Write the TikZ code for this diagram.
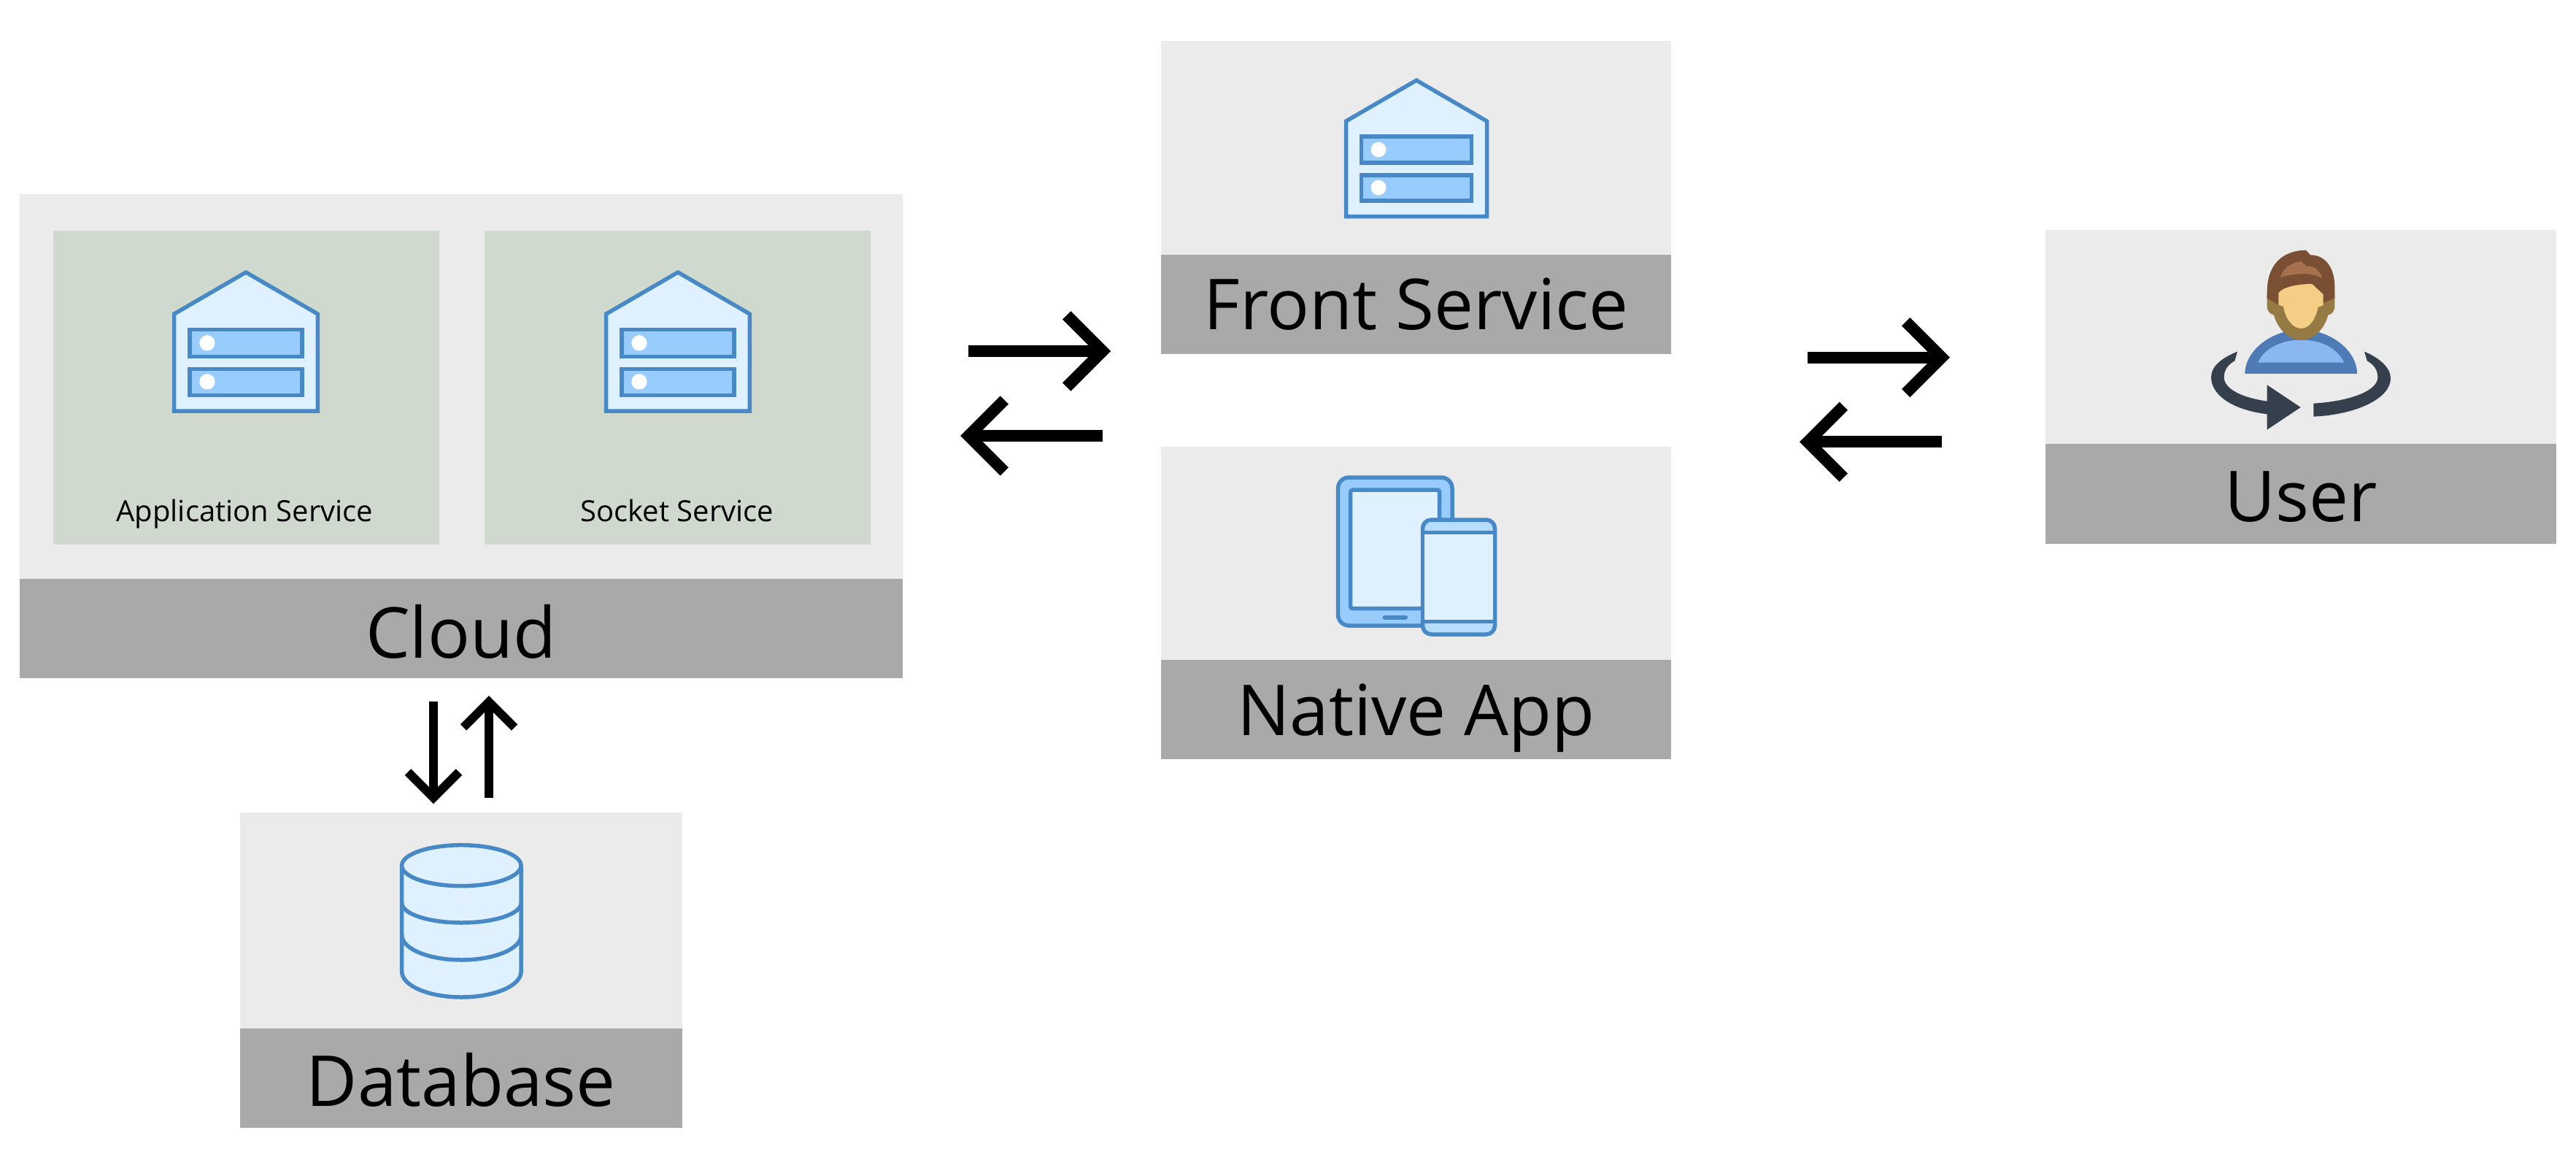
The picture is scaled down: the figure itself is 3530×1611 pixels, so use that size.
\documentclass[tikz,border=0pt]{standalone}
\usepackage{fontspec}
\setmainfont{Open Sans}
\usetikzlibrary{arrows.meta,positioning}
\definecolor{panelgray}{HTML}{EBEBEB}
\definecolor{headgray}{HTML}{A9A9A9}
\definecolor{panelgreen}{HTML}{CFD9CD}
\definecolor{iconline}{HTML}{4788C7}
\definecolor{iconfill}{HTML}{DFF0FE}
\definecolor{iconbar}{HTML}{98CCFD}
\definecolor{iconcap}{HTML}{B6DCFE}
\definecolor{bodyblue}{HTML}{4E7AB5}
\definecolor{shirtblue}{HTML}{8BB7F0}
\definecolor{beard}{HTML}{967A44}
\definecolor{hair}{HTML}{7A4F34}
\definecolor{hairlight}{HTML}{A6714E}
\definecolor{skin}{HTML}{F5CE85}
\definecolor{turn}{HTML}{36404D}

\begin{document}
\begin{tikzpicture}[x=1pt,y=1pt,
    body/.style={fill=panelgray,inner sep=0pt,outer sep=0pt,anchor=north west},
    head/.style={fill=headgray,inner sep=0pt,outer sep=0pt,text height=90pt,font=\fontsize{96.3}{96.3}\selectfont},
    inner/.style={fill=panelgreen,inner sep=0pt,outer sep=0pt,anchor=north west,minimum width=529pt,minimum height=430pt},
    small/.style={inner sep=0pt,anchor=base,font=\fontsize{40}{40}\selectfont},
    link/.style={line width=16pt,-{Straight Barb[length=49pt,width=98pt,line width=16pt]}},
    dblink/.style={line width=12pt,-{Straight Barb[length=35pt,width=70pt,line width=12pt]}},
    icon/.style={draw=iconline,line width=5.5pt},
    server/.pic={
        \draw[icon,fill=iconfill] (0, 0) -- (96.5, -56) -- (96.5, -186.5) -- (-96.5, -186.5) -- (-96.5, -56) -- cycle;
        \draw[icon,fill=iconbar] (-75.5, -77) rectangle (75.5, -113);
        \draw[icon,fill=iconbar] (-75.5, -130) rectangle (75.5, -165);
        \fill[white] (-52, -95) circle (10.5);
        \fill[white] (-52, -147) circle (10.5);
    }]
    \useasboundingbox (0, 0) rectangle (3530, -1611);

    % Cloud
    \node[body,minimum width=1209.7pt,minimum height=527.3pt] (cloudbody) at (27, -265.8) {};
    \node[head,minimum width=1209.7pt,minimum height=135.7pt,text depth=9.5pt,below=0pt of cloudbody] (cloudhead) {Cloud};
    \node[inner] (appbox) at (72.7, -315.6) {};
    \node[inner] (socketbox) at (664.4, -315.6) {};
    \node[small] (applabel) at (335.2, -714) {Application Service};
    \node[small] (socketlabel) at (927.7, -714) {Socket Service};
    \pic[scale=1.02] at (337, -373) {server};
    \pic[scale=1.02] at (929, -373) {server};

    % Database
    \node[body,minimum width=605.6pt,minimum height=295.8pt] (dbbody) at (329, -1113) {};
    \node[head,minimum width=605.6pt,minimum height=135.8pt,text depth=12.5pt,below=0pt of dbbody] (dbhead) {Database};
    \draw[icon,fill=iconfill] (550.7, -1185.7) -- (550.7, -1331) arc (180:360:81.7 and 35) -- (714, -1185.7);
    \draw[icon,fill=iconfill] (632.3, -1185.7) ellipse (81.7 and 28);
    \draw[icon] (550.7, -1237) arc (180:360:81.7 and 27);
    \draw[icon] (550.7, -1281) arc (180:360:81.7 and 34);

    % Front Service
    \node[body,minimum width=699pt,minimum height=292.3pt] (frontbody) at (1591, -56.5) {};
    \node[head,minimum width=699pt,minimum height=135.7pt,text depth=20.9pt,below=0pt of frontbody] (fronthead) {Front Service};
    \pic at (1941, -110) {server};

    % Native App
    \node[body,minimum width=699pt,minimum height=292.5pt] (nativebody) at (1591, -611.5) {};
    \node[head,minimum width=699pt,minimum height=136.4pt,text depth=18.5pt,below=0pt of nativebody] (nativehead) {Native App};
    \draw[icon,fill=iconbar,rounded corners=15pt] (1833.5, -654) rectangle (1990, -857); % tablet
    \draw[icon,fill=iconfill,rounded corners=3pt] (1850.7, -671.2) rectangle (1972.7, -833.5);
    \draw[iconline,line width=6pt,line cap=round] (1897.5, -845.5) -- (1926, -845.5);
    \draw[icon,fill=iconcap,rounded corners=12pt] (1949.5, -712) rectangle (2048.5, -869); % phone
    \draw[icon,fill=iconfill] (1949.5, -729.5) rectangle (2048.5, -851.5);

    % User
    \node[body,minimum width=700pt,minimum height=293pt] (userbody) at (2803, -315) {};
    \node[head,minimum width=700pt,minimum height=137pt,text depth=13.5pt,below=0pt of userbody] (userhead) {User};
    \begin{scope}[shift={(2980, -320)},x=0.3333pt,y=-0.3333pt]
        \fill[fill=bodyblue] (289, 576) .. controls (289, 480) and (400, 395) .. (520, 395) .. controls (640, 395) and (750, 480) .. (750, 576) -- cycle;
        \fill[fill=shirtblue] (342, 530) .. controls (370, 470) and (440, 437) .. (520, 437) .. controls (600, 437) and (670, 470) .. (696, 530) -- cycle;
        \fill[fill=beard] (380, 250) -- (380, 300) .. controls (380, 320) and (395, 332) .. (408, 335) .. controls (425, 395) and (470, 437) .. (520, 437) .. controls (570, 437) and (615, 395) .. (631, 335) .. controls (645, 332) and (658, 320) .. (658, 300) -- (658, 250) -- cycle;
        \fill[fill=hair] (380, 265) -- (380, 240) .. controls (380, 130) and (440, 70) .. (540, 68) -- (558, 88) .. controls (620, 88) and (658, 140) .. (658, 220) -- (658, 265) -- (611, 285) -- (430, 295) -- cycle;
        \fill[fill=hairlight] (435, 180) .. controls (445, 140) and (480, 120) .. (521, 114) -- (542, 135) .. controls (575, 130) and (595, 150) .. (609, 185) .. controls (570, 160) and (500, 160) .. (435, 180) -- cycle;
        \fill[fill=skin] (427, 245) .. controls (440, 222) and (500, 207) .. (565, 207) -- (611, 250) -- (611, 295) -- (590, 302) .. controls (580, 350) and (555, 390) .. (520, 390) .. controls (485, 390) and (455, 350) .. (447, 300) -- (427, 293) -- cycle;
        % rotate arrow
        \fill[fill=turn] (258, 485) -- (247, 523) .. controls (220, 538) and (203, 560) .. (203, 590) .. controls (203, 640) and (280, 675) .. (380, 689) -- (380, 622) -- (518, 714) -- (380, 806) -- (380, 742) .. controls (240, 725) and (150, 665) .. (150, 590) .. controls (150, 545) and (195, 510) .. (258, 485) -- cycle;
        \fill[fill=turn] (780, 485) -- (791, 523) .. controls (818, 538) and (835, 560) .. (835, 590) .. controls (835, 650) and (710, 690) .. (571, 698) -- (571, 752) .. controls (740, 745) and (888, 680) .. (888, 595) .. controls (888, 550) and (840, 510) .. (780, 485) -- cycle;
    \end{scope}

    % Arrows
    \coordinate (a1) at (1327, -481);
    \coordinate (a2) at (1522, -481);
    \coordinate (a3) at (1511, -597);
    \coordinate (a4) at (1316, -597);
    \coordinate (b1) at (2477, -489.7);
    \coordinate (b2) at (2672, -489.7);
    \coordinate (b3) at (2661, -605.3);
    \coordinate (b4) at (2466, -605.3);
    \coordinate (c1) at (594, -961);
    \coordinate (c2) at (594, -1101);
    \coordinate (c3) at (670, -1093);
    \coordinate (c4) at (670, -953);
    \draw[link] (a1) -- (a2);
    \draw[link] (a3) -- (a4);
    \draw[link] (b1) -- (b2);
    \draw[link] (b3) -- (b4);
    \draw[dblink] (c1) -- (c2);
    \draw[dblink] (c3) -- (c4);
\end{tikzpicture}
\end{document}
